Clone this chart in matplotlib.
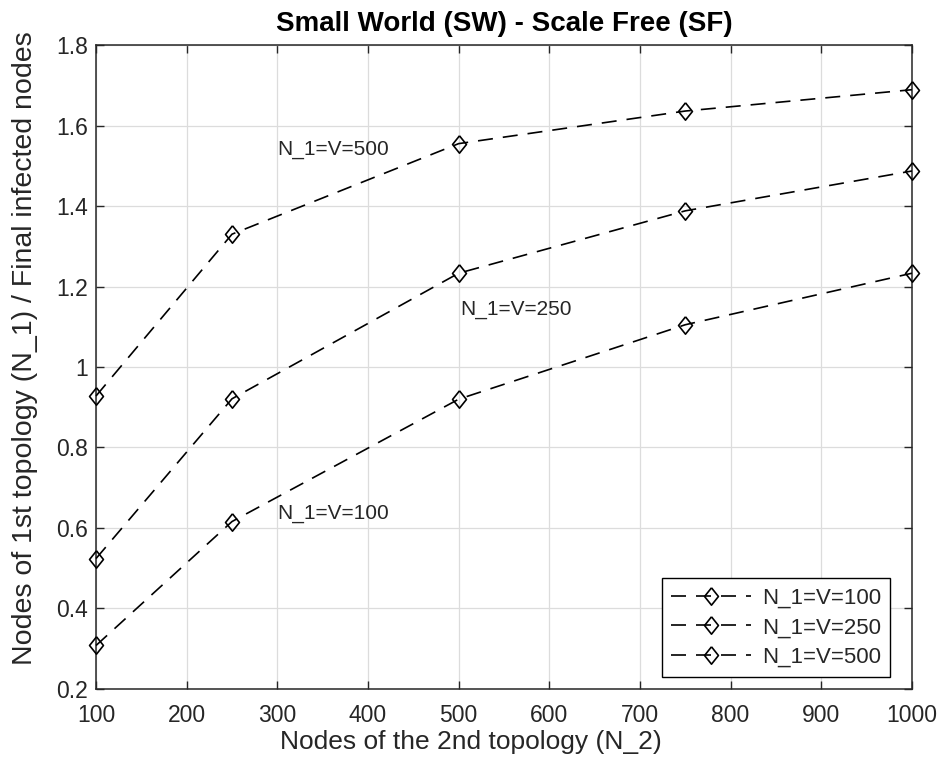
import matplotlib
matplotlib.use("Agg")
import matplotlib.pyplot as plt

# data
n2 = [100, 250, 500, 750, 1000]
v100 = [0.308, 0.616, 0.920, 1.105, 1.233]
v250 = [0.524, 0.921, 1.233, 1.388, 1.487]
v500 = [0.928, 1.330, 1.555, 1.636, 1.689]
labels = ["N_1=V=100", "N_1=V=250", "N_1=V=500"]

plt.rcParams["font.family"] = ["Liberation Sans", "DejaVu Sans"]
txt = "#262626"

# matlab-like diamond (a bit wider than matplotlib's 'd')
diamond = [(0, 1), (0.8, 0), (0, -1), (-0.8, 0), (0, 1)]

fig = plt.figure(figsize=(9.45, 7.71), dpi=100)
ax = fig.add_axes([0.1016, 0.1064, 0.8634, 0.8352])

for y, lab in zip([v100, v250, v500], labels):
    ax.plot(n2, y, color="black", linestyle=(0, (9, 6)), linewidth=1.2,
            marker=diamond, markersize=12.5, markerfacecolor="none",
            markeredgecolor="black", markeredgewidth=1.2, label=lab,
            clip_on=False, zorder=3)

# curve labels
ax.text(300, 1.54, labels[2], fontsize=15, color=txt, va="center")
ax.text(502, 1.142, labels[1], fontsize=15, color=txt, va="center")
ax.text(300, 0.637, labels[0], fontsize=15, color=txt, va="center")

ax.set_xlim(100, 1000)
ax.set_ylim(0.2, 1.8)
ax.set_xticks(range(100, 1001, 100))
ax.set_yticks([0.2, 0.4, 0.6, 0.8, 1, 1.2, 1.4, 1.6, 1.8])
ax.set_yticklabels(["0.2", "0.4", "0.6", "0.8", "1", "1.2", "1.4", "1.6", "1.8"])
ax.grid(True, color="#dcdcdc", linewidth=0.9)
ax.tick_params(direction="in", top=True, right=True, length=6, width=1,
               labelsize=16.5, colors=txt)
ax.tick_params(axis="x", pad=11)
ax.tick_params(axis="y", pad=6)
for s in ax.spines.values():
    s.set_color(txt)
    s.set_linewidth(1.1)

ax.set_xlabel("Nodes of the 2nd topology (N_2)", fontsize=19, color=txt)
ax.set_ylabel("Nodes of 1st topology (N_1) / Final infected nodes", fontsize=20.5,
              color=txt)
ax.xaxis.set_label_coords(0.46, -0.064)
ax.yaxis.set_label_coords(-0.071, 0.529)
ax.set_title("Small World (SW) - Scale Free (SF)", fontsize=20, fontweight="bold",
             color="black", pad=10)

leg = ax.legend(loc="lower right", bbox_to_anchor=(0.9418, 0.1219),
                bbox_transform=fig.transFigure, borderaxespad=0,
                fontsize=16, handlelength=3.6, fancybox=False, framealpha=1,
                edgecolor="black", labelspacing=0.4, handletextpad=0.5)
leg.get_frame().set_linewidth(1.0)
leg.set_zorder(5)
for t in leg.get_texts():
    t.set_color(txt)

fig.savefig("out.png", dpi=100)
